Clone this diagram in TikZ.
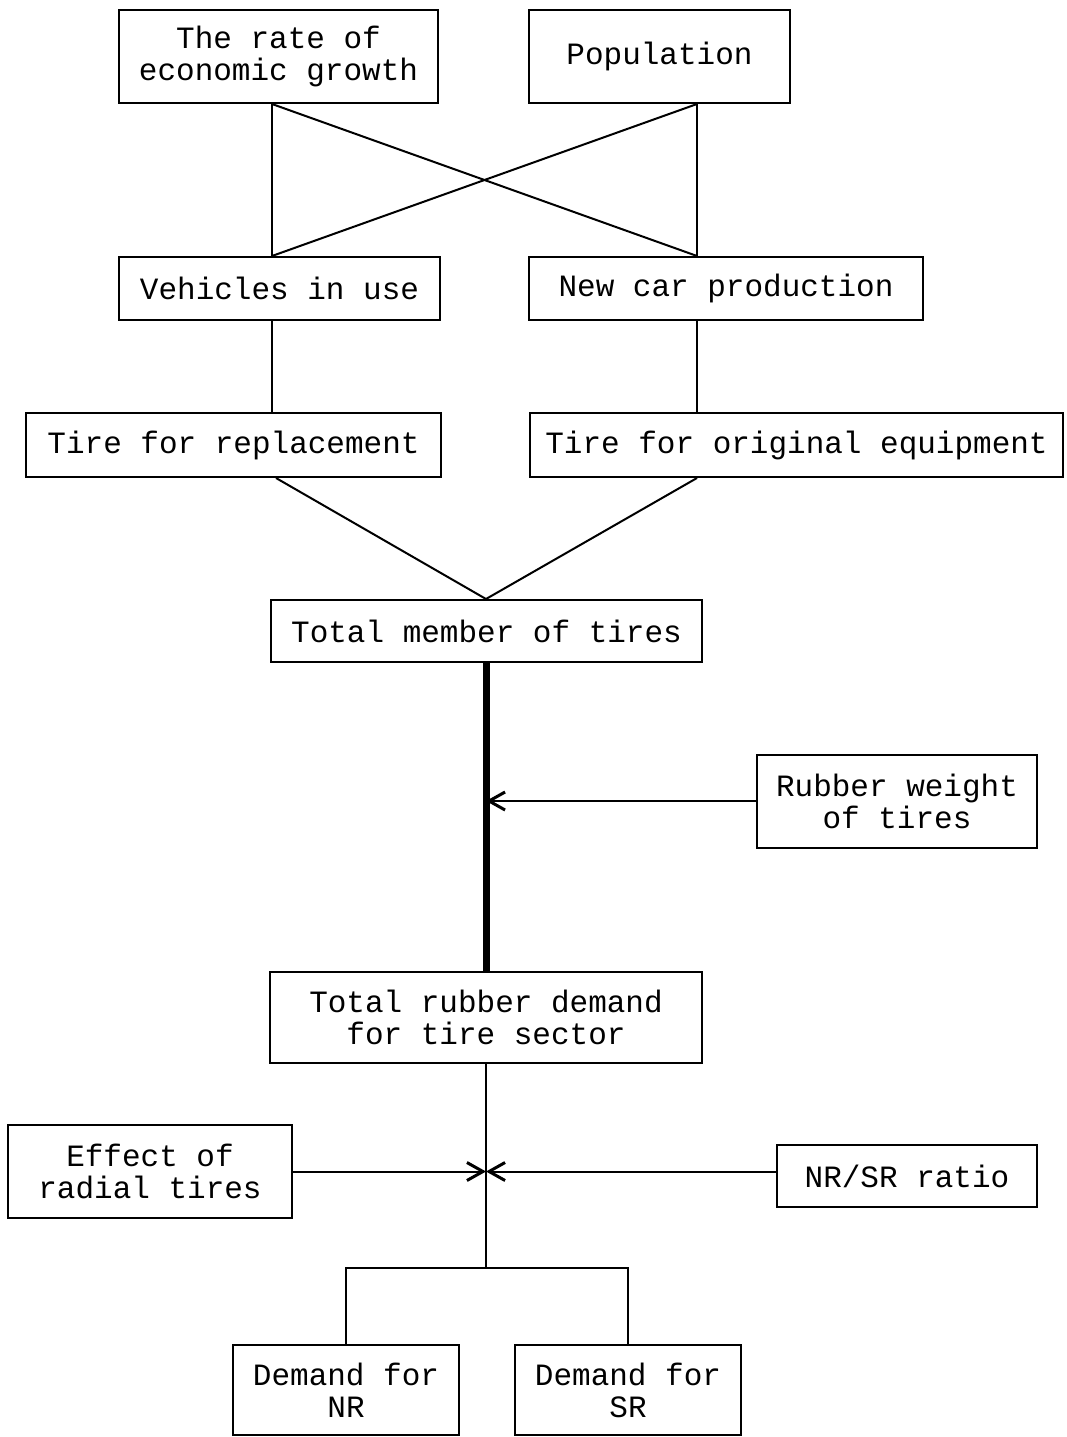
\documentclass[tikz,border=0pt]{standalone}
\usepackage{fontspec}
\setmonofont{Liberation Mono}
\usepackage{tikz}
\usetikzlibrary{arrows.meta, positioning}

\begin{document}
\begin{tikzpicture}[
  x=1pt, y=-1pt,
  every node/.style={font=\ttfamily\fontsize{31}{32}\selectfont},
  box/.style={draw, line width=2pt, align=center, inner sep=0pt},
  link/.style={line width=2pt},
  heavy/.style={line width=7pt},
  feed/.style={line width=2pt, -{Straight Barb[length=16pt, width=18pt, line width=3pt]}},
]
\useasboundingbox (0,0) rectangle (1066,1437);

% columns
\coordinate (lcol) at (272,0);
\coordinate (lfoot) at (276,0);
\coordinate (rcol) at (697,0);
\coordinate (mid) at (486,0);

% Top drivers
\node[box, minimum width=319pt, minimum height=93pt] (growth) at (278.5,56.5) {The rate of\\economic growth};
\node[box, minimum width=261pt, minimum height=93pt] (pop) at (659.5,56.5) {Population};

% Vehicles
\node[box, minimum width=321pt, minimum height=63pt] (vehicles) at (279.5,288.5) {Vehicles in use};
\node[box, minimum width=394pt, minimum height=63pt] (newcar) at (726,288.5) {New car production};

% Tires
\node[box, minimum width=415pt, minimum height=64pt] (replace) at (233.5,445) {Tire for replacement};
\node[box, minimum width=533pt, minimum height=64pt] (oe) at (796.5,445) {Tire for original equipment};
\node[box, minimum width=431pt, minimum height=62pt] (tires) at (486.5,631) {Total member of tires};

% Rubber
\node[box, minimum width=280pt, minimum height=93pt] (weight) at (897,801) {Rubber weight\\of tires};
\node[box, minimum width=432pt, minimum height=91pt] (demand) at (486,1017.5) {Total rubber demand\\for tire sector};
\node[box, minimum width=284pt, minimum height=93pt] (radial) at (150,1171.5) {Effect of\\radial tires};
\node[box, minimum width=260pt, minimum height=62pt] (ratio) at (907,1176) {NR/SR ratio};

% Outputs
\node[box, minimum width=226pt, minimum height=90pt] (nr) at (346,1390) {Demand for\\NR};
\node[box, minimum width=226pt, minimum height=90pt] (sr) at (628,1390) {Demand for\\SR};
\coordinate (split) at (486,1268);

% Cross links
\draw[link] (growth.south -| lcol) -- (vehicles.north -| lcol);
\draw[link] (pop.south -| rcol) -- (newcar.north -| rcol);
\draw[link] (growth.south -| lcol) -- (newcar.north -| rcol);
\draw[link] (pop.south -| rcol) -- (vehicles.north -| lcol);
\draw[link] (vehicles.south -| lcol) -- (replace.north -| lcol);
\draw[link] (newcar.south -| rcol) -- (oe.north -| rcol);
\draw[link] (replace.south -| lfoot) -- (tires.north -| mid);
\draw[link] (oe.south -| rcol) -- (tires.north -| mid);

% Rubber flow
\draw[heavy] (tires.south -| mid) -- (demand.north -| mid);
\draw[feed] (weight.west) -- (weight.west -| mid);
\draw[link] (demand.south -| mid) -- (split);
\draw[feed] (radial.east) -- (radial.east -| mid);
\draw[feed] (ratio.west |- radial.east) -- (radial.east -| mid);
\draw[link] (nr.north) -- (nr.north |- split) -- (sr.north |- split) -- (sr.north);

\end{tikzpicture}
\end{document}
